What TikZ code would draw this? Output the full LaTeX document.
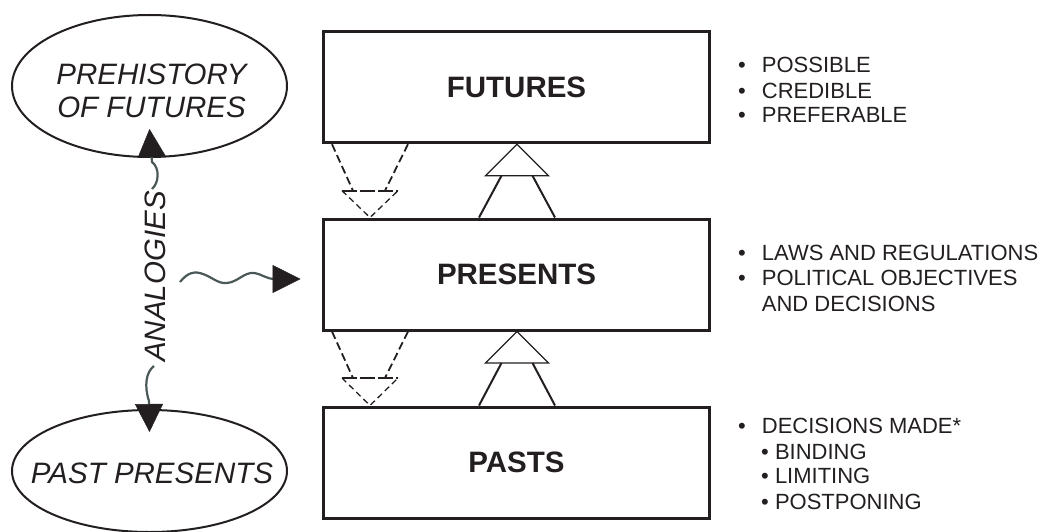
\documentclass[tikz,border=0pt]{standalone}
\usepackage{fontspec}
\setmainfont{Liberation Sans}
\usetikzlibrary{calc,shapes.geometric,arrows.meta}
\definecolor{ink}{HTML}{231F20}
\definecolor{wavec}{HTML}{4A5858}
\begin{document}
\begin{tikzpicture}[x=1pt,y=-1pt,
  box/.style={draw=ink, line width=3pt, minimum width=386pt, minimum height=111pt, inner sep=0pt,
    font=\fontsize{29.5}{33}\selectfont\bfseries, text=ink},
  ell/.style={draw=ink, line width=2pt, ellipse, minimum width=275pt, inner sep=0pt},
  elltxt/.style={font=\fontsize{29.5}{33}\selectfont\itshape, text=ink, align=center, inner sep=0pt},
  itm/.style={anchor=base west, inner sep=0pt, font=\fontsize{22}{25}\selectfont, text=ink},
  stemdash/.style={draw=ink, line width=1.8pt, dash pattern=on 8pt off 4pt},
  bardash/.style={draw=ink, line width=2.4pt, dash pattern=on 15pt off 3pt},
  tridash/.style={draw=ink, line width=1.3pt, dash pattern=on 6pt off 4pt},
  trisolid/.style={draw=ink, line width=1.3pt, line join=miter},
  stemsolid/.style={draw=ink, line width=2pt},
  wavy/.style={draw=wavec, line width=2.2pt, -{Triangle[length=28pt,width=28pt,color=ink,line width=0.5pt]}},
]
\useasboundingbox (0,0) rectangle (1041,532);

% boxes
\node[box] (fut)  at (516.5,87.2)  {\raisebox{-4.5pt}{FUTURES}};
\node[box] (pres) at (516.5,274.5) {\raisebox{-4.5pt}{PRESENTS}};
\node[box] (past) at (516.5,462.5) {\raisebox{-4pt}{PASTS}};

% ellipses
\begin{scope}
\clip (0,0) rectangle (1041,532);
\node[ell, minimum height=142pt] (pre) at (149.5,86) {};
\node[ell, minimum height=122pt] (pp) at (149.5,471) {};
\end{scope}
\node[elltxt] (pretxt) at (151.5,91) {PREHISTORY\\OF FUTURES};
\node[elltxt] (pptxt) at (152,473.3) {PAST PRESENTS};

% analogies
\node[elltxt, rotate=90] (ana) at (155,276.5) {ANALOGIES};
\coordinate (aU) at (152,189);
\coordinate (aL) at (154,366);
\coordinate (tipU) at ($(pre.south)+(0,-29)$);
\coordinate (tipL) at ($(pp.north)+(0,23)$);
\draw[wavy] (aU) .. controls (159,183) and (160,168) .. (152,162) -- (tipU);
\draw[wavy] (aL) .. controls (146,372) and (144,386) .. (149,401) -- (tipL);
\coordinate (wS) at (180,282);
\coordinate (tipP) at ($(pres.west)+(-21.5,4.5)$);
\draw[wavy] (wS) .. controls (188,272) and (195,271) .. (203,274)
  .. controls (212,277) and (218,284) .. (227,283)
  .. controls (238,282) and (244,272) .. (254,273)
  .. controls (262,274) and (266,279) .. (275,279) -- (tipP);

% arrows between boxes: dashed down, solid up
\foreach \up/\lo in {fut/pres, pres/past}{
  % dashed down arrow
  \draw[stemdash] ($(\up.south)+(-184.5,0)$) -- ($(\up.south)+(-163.5,46.5)$);
  \draw[stemdash] ($(\up.south)+(-108.5,0)$) -- ($(\up.south)+(-131.5,46.5)$);
  \draw[bardash] ($(\up.south)+(-174.5,46.5)$) -- ($(\up.south)+(-118.5,46.5)$);
  \draw[tridash] ($(\up.south)+(-174.5,46.5)$) -- ($(\lo.north)+(-146.5,0)$) -- ($(\up.south)+(-118.5,46.5)$);
  % solid up arrow
  \draw[trisolid] ($(\up.south)+(0.5,0)$) -- ($(\up.south)+(-31,31.5)$) -- ($(\up.south)+(32,31.5)$) -- cycle;
  \draw[stemsolid] ($(\up.south)+(-15,31.5)$) -- ($(\lo.north)+(-37.5,0)$);
  \draw[stemsolid] ($(\up.south)+(16,31.5)$) -- ($(\lo.north)+(38.5,0)$);
}

% bullet lists
\node[itm] (f1) at (738,72.9)  {\makebox[23.7pt][l]{•}POSSIBLE};
\node[itm] (f2) at (738,98.3)  {\makebox[23.7pt][l]{•}CREDIBLE};
\node[itm] (f3) at (738,122.7) {\makebox[23.7pt][l]{•}PREFERABLE};
\node[itm] (p1) at (738,260.9) {\makebox[23.7pt][l]{•}LAWS AND REGULATIONS};
\node[itm] (p2) at (738,285.7) {\makebox[23.7pt][l]{•}POLITICAL OBJECTIVES};
\node[itm] (p3) at (761.7,311.1) {AND DECISIONS};
\node[itm] (q1) at (738,433.8) {\makebox[23.7pt][l]{•}DECISIONS MADE*};
\node[itm] (q2) at (761,459.2) {• BINDING};
\node[itm] (q3) at (761,483.9) {• LIMITING};
\node[itm] (q4) at (761,509)   {• POSTPONING};
\end{tikzpicture}
\end{document}
